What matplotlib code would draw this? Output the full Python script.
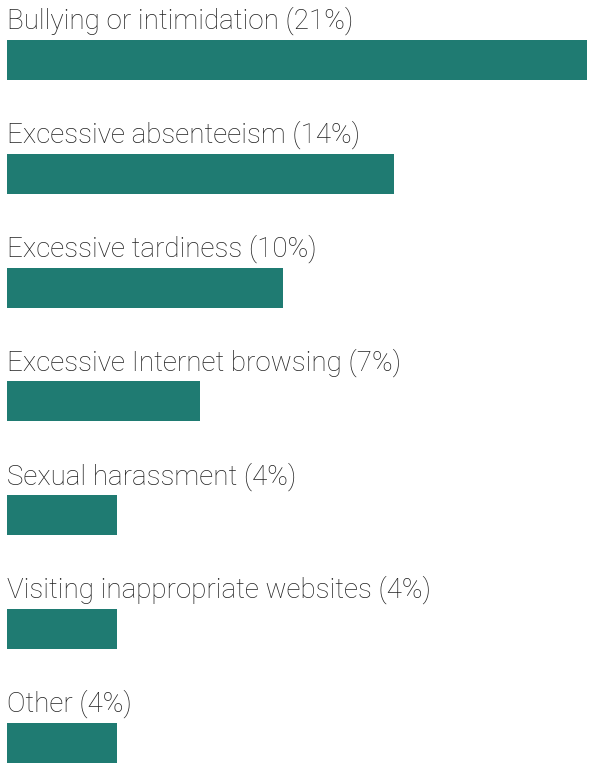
import matplotlib
matplotlib.use("Agg")
import matplotlib.pyplot as plt

reasons = [
    "Bullying or intimidation",
    "Excessive absenteeism",
    "Excessive tardiness",
    "Excessive Internet browsing",
    "Sexual harassment",
    "Visiting inappropriate websites",
    "Other",
]
shares = [21, 14, 10, 7, 4, 4, 4]

bar_color = "#1f7b72"
text_color = "#222222"

W, H = 590, 764
fig = plt.figure(figsize=(W / 100, H / 100), dpi=100)
ax = fig.add_axes([0, 0, 1, 1])

# pixel-based spacing: 0% sits 7px from the left edge, rows are ~114px apart
px_per_pct = 27.62
x0 = 7
step = 113.8
first_center = 60
bar_h = 40 / step

ax.set_xlim(-x0 / px_per_pct, (W - x0) / px_per_pct)
ax.set_ylim((H - first_center) / step, -first_center / step)

ypos = list(range(len(reasons)))
ax.barh(ypos, shares, height=bar_h, color=bar_color, align="center")

for y, name, val in zip(ypos, reasons, shares):
    ax.text(0, y - bar_h / 2 - 11 / step, f"{name} ({val}%)",
            fontsize=20, family="Roboto", weight="light", color=text_color,
            ha="left", va="baseline")

ax.axis("off")
fig.savefig("out.png", dpi=100)
